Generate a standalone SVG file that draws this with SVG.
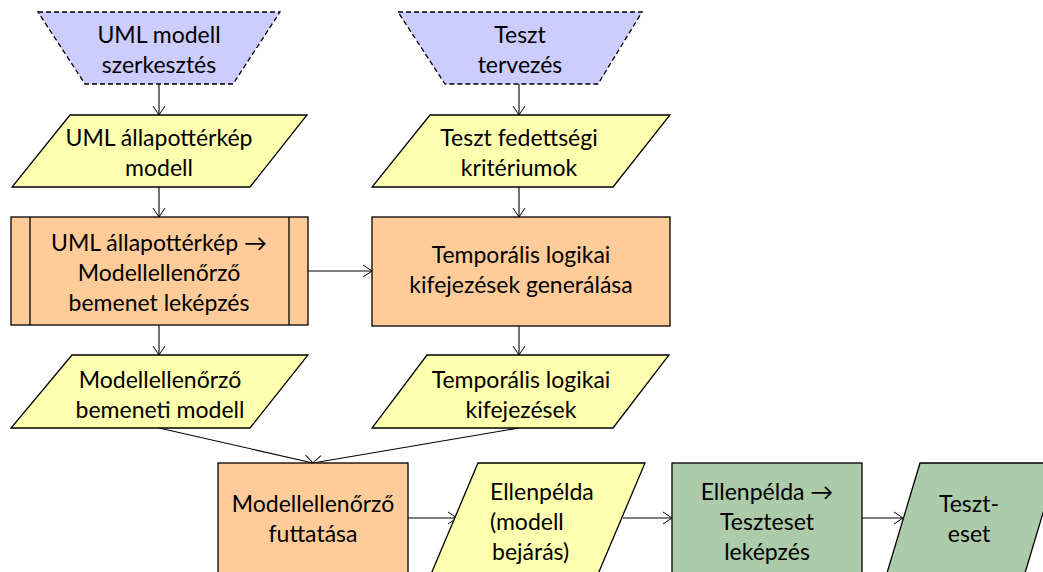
<svg xmlns="http://www.w3.org/2000/svg" width="1043" height="572" viewBox="0 0 1043 572">
<defs>
<marker id="arr" markerUnits="userSpaceOnUse" markerWidth="12" markerHeight="14" refX="10" refY="7" orient="auto">
<path d="M1,1 L10,7 L1,13" fill="none" stroke="#000" stroke-width="1"/>
</marker>
<style>
.t{font-family:Lato,"Liberation Sans",sans-serif;font-size:23px;fill:#000;text-anchor:middle}
.l{text-anchor:start}
.term{fill:#CCCCFF;stroke:#000;stroke-width:1.3;stroke-dasharray:5,3}
.data{fill:#FFFFB0;stroke:#000;stroke-width:1.3}
.proc{fill:#FFCC99;stroke:#000;stroke-width:1.3}
.green{fill:#ABCBAB;stroke:#000;stroke-width:1.3}
.c{fill:none;stroke:#000;stroke-width:1.1;marker-end:url(#arr)}
</style>
</defs>
<rect width="1043" height="572" fill="#fff"/>
<g id="connectors">
<line class="c" x1="159" y1="84" x2="159" y2="115"/>
<line class="c" x1="159" y1="187" x2="159" y2="217"/>
<line class="c" x1="159" y1="325" x2="159" y2="355"/>
<line class="c" x1="519" y1="84" x2="519" y2="115"/>
<line class="c" x1="519" y1="187" x2="519" y2="217"/>
<line class="c" x1="519" y1="326" x2="519" y2="355"/>
<line class="c" x1="308" y1="271" x2="372" y2="271"/>
<line class="c" x1="159" y1="428" x2="313" y2="463"/>
<line class="c" x1="519" y1="428" x2="313" y2="463"/>
<line class="c" x1="408" y1="518" x2="457" y2="518"/>
<line class="c" x1="623" y1="518" x2="672" y2="518"/>
<line class="c" x1="862" y1="518" x2="903" y2="518"/>
</g>
<g id="n1">
<polygon class="term" points="38,12 280,12 233,84 85,84"/>
<text class="t" x="159" y="43">UML modell</text>
<text class="t" x="159" y="73">szerkesztés</text>
</g>
<g id="n2">
<polygon class="term" points="398,12 642,12 598,84 445,84"/>
<text class="t" x="520" y="43">Teszt</text>
<text class="t" x="520" y="73">tervezés</text>
</g>
<g id="n3">
<polygon class="data" points="70,115 307,115 250,187 12,187"/>
<text class="t" x="159" y="146">UML állapottérkép</text>
<text class="t" x="159" y="176">modell</text>
</g>
<g id="n4">
<polygon class="data" points="430,115 670,115 613,187 372,187"/>
<text class="t" x="519" y="146">Teszt fedettségi</text>
<text class="t" x="519" y="176">kritériumok</text>
</g>
<g id="n5">
<rect class="proc" x="11" y="217" width="297" height="108"/>
<line x1="30" y1="217" x2="30" y2="325" stroke="#000" stroke-width="1.3"/>
<line x1="289" y1="217" x2="289" y2="325" stroke="#000" stroke-width="1.3"/>
<text class="t" x="159" y="251">UML állapottérkép →</text>
<text class="t" x="159" y="281">Modellellenőrző</text>
<text class="t" x="159" y="311">bemenet leképzés</text>
</g>
<g id="n6">
<rect class="proc" x="372" y="217" width="298" height="109"/>
<text class="t" x="521" y="263">Temporális logikai</text>
<text class="t" x="521" y="293">kifejezések generálása</text>
</g>
<g id="n7">
<polygon class="data" points="72,355 308,355 250,428 11,428"/>
<text class="t" x="160" y="388">Modellellenőrző</text>
<text class="t" x="160" y="418">bemeneti modell</text>
</g>
<g id="n8">
<polygon class="data" points="427,355 669,355 613,428 372,428"/>
<text class="t" x="521" y="388">Temporális logikai</text>
<text class="t" x="521" y="418">kifejezések</text>
</g>
<g id="n9">
<rect class="proc" x="218" y="463" width="190" height="130"/>
<text class="t" x="313" y="512">Modellellenőrző</text>
<text class="t" x="313" y="542">futtatása</text>
</g>
<g id="n10">
<polygon class="data" points="478,463 645,463 590,593 423,593"/>
<text class="t l" x="490" y="500">Ellenpélda</text>
<text class="t l" x="490" y="530">(modell</text>
<text class="t l" x="492" y="560">bejárás)</text>
</g>
<g id="n11">
<rect class="green" x="672" y="463" width="190" height="130"/>
<text class="t" x="767" y="500">Ellenpélda →</text>
<text class="t" x="767" y="530">Teszteset</text>
<text class="t" x="767" y="560">leképzés</text>
</g>
<g id="n12">
<polygon class="green" points="920,463 1058,463 1019,593 881,593"/>
<text class="t" x="969" y="512">Teszt-</text>
<text class="t" x="969" y="542">eset</text>
</g>
</svg>
